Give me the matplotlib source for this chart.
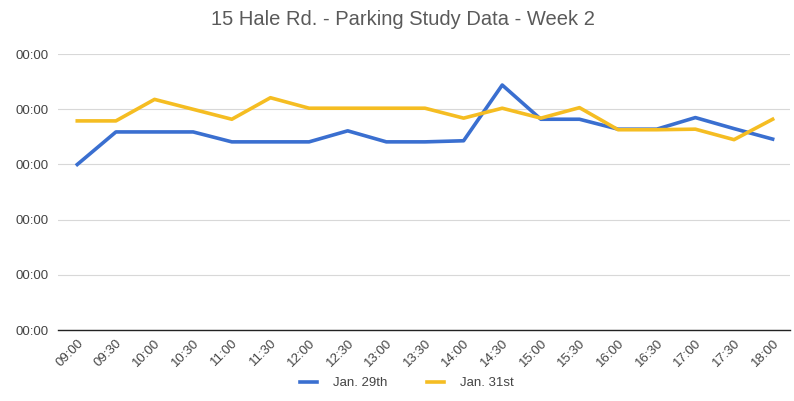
import matplotlib.pyplot as plt
from matplotlib.ticker import FuncFormatter

plt.rcParams["font.family"] = ["Liberation Sans", "DejaVu Sans"]

# data (values in grid units)
times = ["09:00", "09:30", "10:00", "10:30", "11:00", "11:30", "12:00", "12:30", "13:00", "13:30",
         "14:00", "14:30", "15:00", "15:30", "16:00", "16:30", "17:00", "17:30", "18:00"]
jan29 = [3.00, 3.59, 3.59, 3.59, 3.41, 3.41, 3.41, 3.61, 3.41, 3.41,
         3.43, 4.44, 3.82, 3.82, 3.64, 3.64, 3.85, 3.65, 3.46]
jan31 = [3.79, 3.79, 4.18, 4.00, 3.82, 4.21, 4.02, 4.02, 4.02, 4.02,
         3.84, 4.02, 3.84, 4.03, 3.63, 3.63, 3.64, 3.45, 3.82]
y_ticks = [0, 1, 2, 3, 4, 5]

fig = plt.figure(figsize=(7.94, 4.01), dpi=100)
ax = fig.add_axes([0.073, 0.177, 0.922, 0.688])

x = range(len(times))
ax.plot(x, jan29, color="#3a6fd0", lw=2.6, label="Jan. 29th", solid_joinstyle="round")
ax.plot(x, jan31, color="#f5bd22", lw=2.6, label="Jan. 31st", solid_joinstyle="round")

ax.set_xlim(-0.5, len(times) - 1 + 0.45)
ax.set_ylim(0, 5)
ax.set_yticks(y_ticks)
ax.yaxis.set_major_formatter(FuncFormatter(lambda v, p: "00:00"))
ax.set_xticks(list(x))
ax.set_xticklabels(times, rotation=45, ha="right", rotation_mode="anchor")

ax.grid(axis="y", color="#d8d8d8", lw=0.8)
ax.set_axisbelow(True)
for s in ["top", "right", "left"]:
    ax.spines[s].set_visible(False)
ax.spines["bottom"].set_color("#222222")
ax.spines["bottom"].set_linewidth(1.0)
ax.tick_params(axis="both", length=0, labelsize=9.5, labelcolor="#444444")
ax.tick_params(axis="y", pad=7)
ax.tick_params(axis="x", pad=5)

fig.suptitle("15 Hale Rd. - Parking Study Data - Week 2", x=0.508, y=0.975,
             fontsize=14.5, color="#5a5a5a")

fig.legend(loc="lower center", bbox_to_anchor=(0.512, 0.0), ncol=2, frameon=False,
           fontsize=9.5, handlelength=1.3, handletextpad=1.2, columnspacing=3.0,
           labelcolor="#444444")

fig.savefig("out.png", dpi=100)
